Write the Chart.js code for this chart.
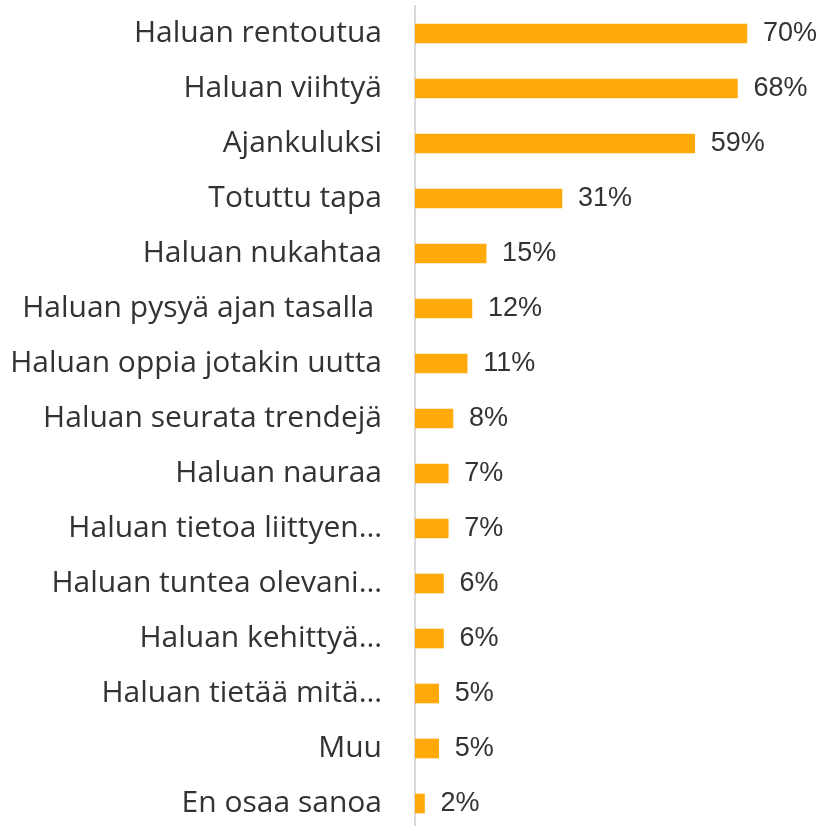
<!DOCTYPE html>
<html>
<head>
<meta charset="utf-8">
<script src="https://cdn.jsdelivr.net/npm/chart.js@4"></script>
<style>
html,body{margin:0;padding:0;background:#fff;overflow:hidden;}
#wrap{width:821px;height:831px;}
</style>
</head>
<body>
<div id="wrap"><canvas id="c" width="821" height="831"></canvas></div>
<script>
const categories = [
  "Haluan rentoutua",
  "Haluan viihtyä",
  "Ajankuluksi",
  "Totuttu tapa",
  "Haluan nukahtaa",
  "Haluan pysyä ajan tasalla ",
  "Haluan oppia jotakin uutta",
  "Haluan seurata trendejä",
  "Haluan nauraa",
  "Haluan tietoa liittyen…",
  "Haluan tuntea olevani…",
  "Haluan kehittyä…",
  "Haluan tietää mitä…",
  "Muu",
  "En osaa sanoa"
];
const values = [70, 68, 59, 31, 15, 12, 11, 8, 7, 7, 6, 6, 5, 5, 2];
const valueLabels = values.map(v => v + "%");

const valueLabelPlugin = {
  id: "valueLabels",
  afterDatasetsDraw(chart) {
    const ctx = chart.ctx;
    const meta = chart.getDatasetMeta(0);
    ctx.save();
    ctx.font = "27px 'Liberation Sans', Arial, sans-serif";
    ctx.fillStyle = "#333333";
    ctx.textAlign = "left";
    ctx.textBaseline = "middle";
    meta.data.forEach((bar, i) => {
      ctx.fillText(valueLabels[i], bar.x + 16, bar.y);
    });
    ctx.restore();
  }
};

new Chart(document.getElementById("c"), {
  type: "bar",
  data: {
    labels: categories,
    datasets: [{
      data: values,
      backgroundColor: "#FFAA08",
      borderWidth: 0,
      barThickness: 19
    }]
  },
  options: {
    indexAxis: "y",
    responsive: false,
    animation: false,
    layout: { padding: { top: 6, right: 3, bottom: 0, left: 0 } },
    plugins: { legend: { display: false }, tooltip: { enabled: false } },
    scales: {
      x: { display: false, min: 0, max: 85 },
      y: {
        grid: { display: false, drawTicks: false },
        border: { display: true, color: "#d9d9d9", width: 2 },
        ticks: {
          color: "#333333",
          padding: 33,
          font: { family: "'Open Sans', sans-serif", size: 30 }
        },
        afterFit(scale) {
          scale.width = 415;
          scale.paddingTop = 0;
          scale.paddingBottom = 0;
        }
      }
    }
  },
  plugins: [valueLabelPlugin]
});
</script>
</body>
</html>
